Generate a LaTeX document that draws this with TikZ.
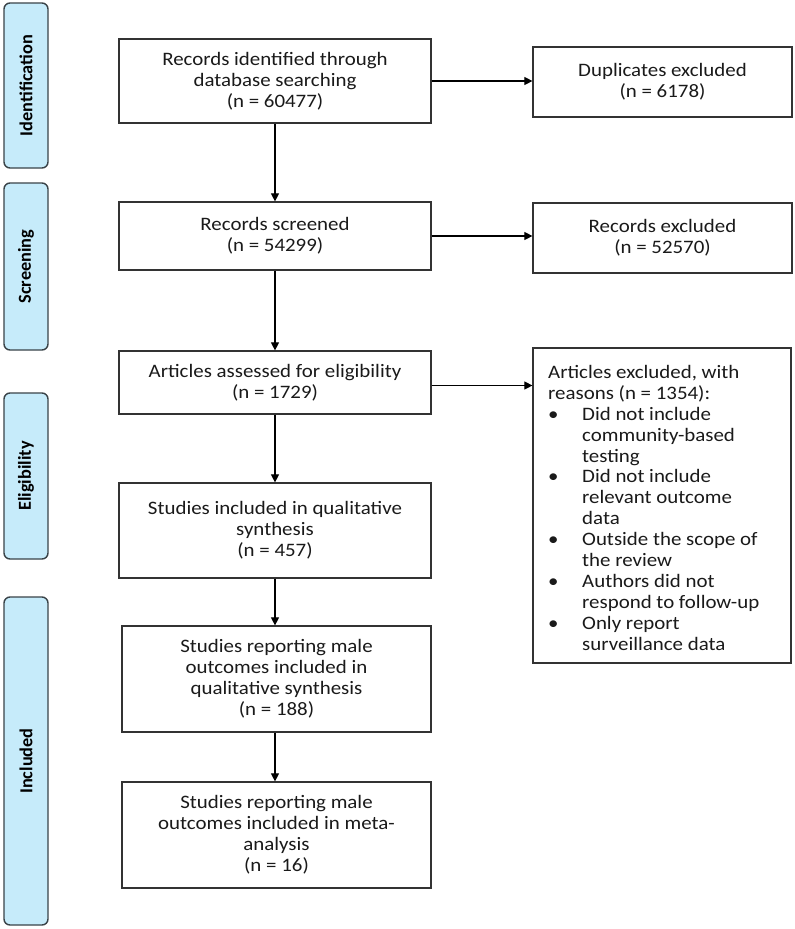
\documentclass[tikz,border=0pt]{standalone}
\usepackage{fontspec}
\setmainfont{Carlito}[FakeStretch=1.1]
\newfontfamily\phasefont{Carlito}[BoldFont=Carlito Bold]
\usetikzlibrary{arrows.meta}
\definecolor{phasefill}{HTML}{C6EBFA}
\definecolor{phaseline}{HTML}{3A4348}
\definecolor{boxline}{HTML}{333333}
\definecolor{txt}{HTML}{1A1A1A}
\tikzset{
  phase/.style={draw=phaseline, line width=1.4pt, fill=phasefill, rounded corners=6pt,
    rotate=90, minimum height=44pt, inner sep=0pt,
    font=\phasefont\fontsize{18.3}{20}\selectfont\bfseries, text=black},
  flowbox/.style={draw=boxline, line width=1.2pt, align=center, inner sep=0pt,
    font=\fontsize{19}{20.9}\selectfont, text=txt},
  flowarrow/.style={draw=black, line width=1.1pt, -{Triangle[length=8pt,width=8pt]}}
}
\begin{document}
\begin{tikzpicture}[x=1pt,y=-1pt]
\useasboundingbox (0,0) rectangle (795,929);
\fill[white] (0,0) rectangle (795,929);
% phase labels
\node[phase, minimum width=165pt] (pid) at (26,85.5) {Identification};
\node[phase, minimum width=167pt] (psc) at (26,266.5) {Screening};
\node[phase, minimum width=166pt] (pel) at (26,476) {Eligibility};
\node[phase, minimum width=328pt] (pin) at (26,761) {Included};
% main column
\node[flowbox, minimum width=312pt, minimum height=84pt] (b1) at (275,81)
  {Records identified through\\database searching\\(n = 60477)};
\node[flowbox, minimum width=312pt, minimum height=68pt] (b2) at (275,236)
  {Records screened\\(n = 54299)};
\node[flowbox, minimum width=312pt, minimum height=63pt] (b3) at (275,382.5)
  {Articles assessed for eligibility\\(n = 1729)};
\node[flowbox, minimum width=312pt, minimum height=95pt] (b4) at (275,530.5)
  {Studies included in qualitative\\synthesis\\(n = 457)};
\node[flowbox, minimum width=309pt, minimum height=106pt] (b5) at (276.5,679)
  {Studies reporting male\\outcomes included in\\qualitative synthesis\\(n = 188)};
\node[flowbox, minimum width=309pt, minimum height=106pt] (b6) at (276.5,835)
  {Studies reporting male\\outcomes included in meta-\\analysis\\(n = 16)};
% right column
\node[flowbox, minimum width=259pt, minimum height=70pt] (d1) at (662.5,82)
  {Duplicates excluded\\(n = 6178)};
\node[flowbox, minimum width=259pt, minimum height=70pt] (d2) at (662.5,238)
  {Records excluded\\(n = 52570)};
\node[flowbox, minimum width=258pt, minimum height=315pt] (d3) at (662,505.5) {};
\node[anchor=north west, inner sep=0pt, align=left, text=txt,
  font=\fontsize{19}{20.9}\selectfont] (d3t) at (548,365)
  {Articles excluded, with\\
   reasons (n = 1354):\\
   \makebox[34pt][l]{\textbullet}Did not include\\
   \hspace*{34pt}community-based\\
   \hspace*{34pt}testing\\
   \makebox[34pt][l]{\textbullet}Did not include\\
   \hspace*{34pt}relevant outcome\\
   \hspace*{34pt}data\\
   \makebox[34pt][l]{\textbullet}Outside the scope of\\
   \hspace*{34pt}the review\\
   \makebox[34pt][l]{\textbullet}Authors did not\\
   \hspace*{34pt}respond to follow-up\\
   \makebox[34pt][l]{\textbullet}Only report\\
   \hspace*{34pt}surveillance data};
% connectors
\draw[flowarrow] (b1.south) -- (b1.south |- b2.north);
\draw[flowarrow] (b2.south) -- (b2.south |- b3.north);
\draw[flowarrow] (b3.south) -- (b3.south |- b4.north);
\draw[flowarrow] (b4.south) -- (b4.south |- b5.north);
\draw[flowarrow] (b5.south -| b4.south) -- (b4.south |- b6.north);
\draw[flowarrow] (b1.east) -- (b1.east -| d1.west);
\draw[flowarrow] (b2.east) -- (b2.east -| d2.west);
\draw[flowarrow] ([yshift=-3pt]b3.east) -- ([yshift=-3pt]b3.east -| d3.west);
\end{tikzpicture}
\end{document}
